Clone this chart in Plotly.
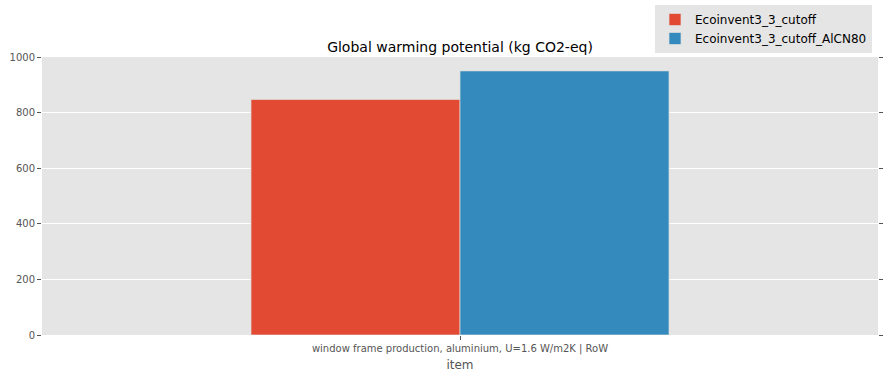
import plotly.graph_objects as go

categories = ["window frame production, aluminium, U=1.6 W/m2K | RoW"]
series_names = ["Ecoinvent3_3_cutoff", "Ecoinvent3_3_cutoff_AlCN80"]
series_values = [[847], [950]]
colors = ["#E24A33", "#348ABD"]
y_ticks = [0, 200, 400, 600, 800, 1000]

fig = go.Figure()
for name, vals, c in zip(series_names, series_values, colors):
    fig.add_trace(go.Bar(x=categories, y=vals, name=name,
                         marker=dict(color=c, line=dict(color="#dddddd", width=0.7))))

fig.update_layout(
    width=884, height=379,
    margin=dict(l=42, r=6, t=57, b=44, autoexpand=False),
    paper_bgcolor="white", plot_bgcolor="#E5E5E5",
    barmode="group", bargap=0.5, bargroupgap=0,
    font=dict(family="DejaVu Sans", color="#555555", size=10),
    title=dict(text="Global warming potential (kg CO2-eq)", x=0.5, xanchor="center",
               xref="paper",
               y=1 - 47/379, yanchor="middle",
               font=dict(size=14, color="black", family="DejaVu Sans")),
    legend=dict(xref="container", yref="container",
                x=872/884, xanchor="right", y=1 - 5/379, yanchor="top",
                bgcolor="#E5E5E5", borderwidth=0,
                font=dict(size=12, color="black", family="DejaVu Sans"),
                itemwidth=30, tracegroupgap=0),
    showlegend=True,
)
fig.update_xaxes(range=[-0.5, 0.5], showgrid=False, ticks="outside", ticklen=4,
                 tickcolor="#555555", tickfont=dict(size=10, color="#555555"),
                 automargin=False,
                 title=dict(text="item", font=dict(size=12, color="#555555"), standoff=6))
fig.update_yaxes(range=[0, 1000], tickvals=y_ticks, showgrid=True, gridcolor="white",
                 gridwidth=1, zeroline=False, ticks="outside", ticklen=4,
                 tickcolor="#555555", mirror="ticks", showline=False, automargin=False,
                 tickfont=dict(size=10, color="#555555"))

fig.write_html("out.html", config={"displayModeBar": False},
               post_script="document.body.style.margin='0';")
